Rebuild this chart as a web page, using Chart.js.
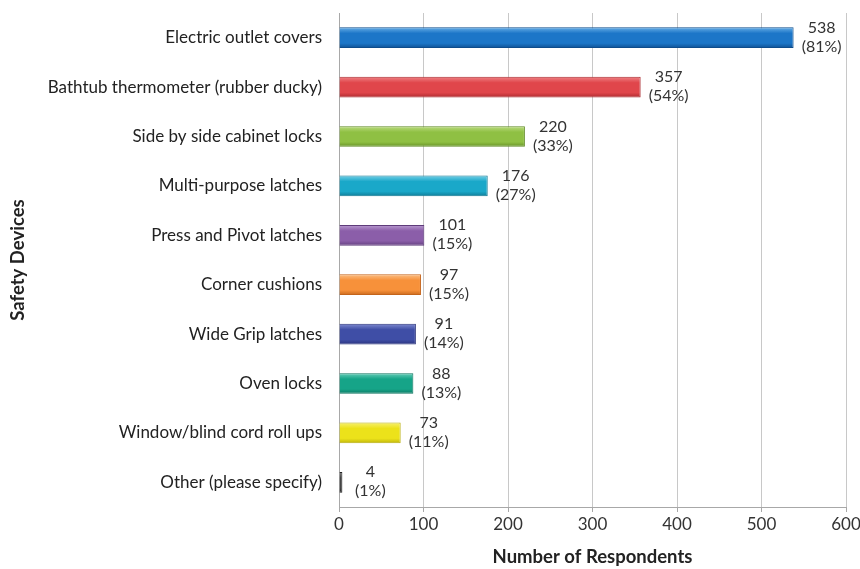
<!DOCTYPE html>
<html>
<head>
<meta charset="utf-8">
<script src="https://cdn.jsdelivr.net/npm/chart.js@4.4.0/dist/chart.umd.min.js"></script>
<style>
  html, body { margin: 0; padding: 0; background: #fff; }
  #wrap { width: 860px; height: 569px; }
</style>
</head>
<body>
<div id="wrap"><canvas id="devicesChart" width="860" height="569"></canvas></div>
<script>
const categories = [
  'Electric outlet covers',
  'Bathtub thermometer (rubber ducky)',
  'Side by side cabinet locks',
  'Multi-purpose latches',
  'Press and Pivot latches',
  'Corner cushions',
  'Wide Grip latches',
  'Oven locks',
  'Window/blind cord roll ups',
  'Other (please specify)'
];
const respondents = [538, 357, 220, 176, 101, 97, 91, 88, 73, 4];
const percents = [81, 54, 33, 27, 15, 15, 14, 13, 11, 1];
const xTicks = [0, 100, 200, 300, 400, 500, 600];

// [light, main, dark] per bar
const barColors = [
  ['#6fb4ea', '#1c76c8', '#0d4c8c'],
  ['#f08a8d', '#e0464b', '#a8282c'],
  ['#c2e08a', '#8fc043', '#5f8a22'],
  ['#7fd4ea', '#1aa8c9', '#0e7791'],
  ['#bfa3d6', '#8b5ea9', '#5e3b7a'],
  ['#fcc58f', '#f7913a', '#c4641a'],
  ['#8893d6', '#3f4ea6', '#27307a'],
  ['#6fd2bd', '#16a488', '#0b745f'],
  ['#f8f27a', '#ece21a', '#b8ae0a'],
  ['#888888', '#444444', '#222222']
];

const font = 'Lato, "Open Sans", sans-serif';

function barFill(ctx) {
  const chart = ctx.chart;
  const c = barColors[ctx.dataIndex];
  const y = chart.scales && chart.scales.y;
  if (!y || !chart.ctx) return c[1];
  const mid = y.getPixelForValue(ctx.dataIndex);
  if (!isFinite(mid)) return c[1];
  const half = 11;
  const g = chart.ctx.createLinearGradient(0, mid - half, 0, mid + half);
  g.addColorStop(0, c[0]);
  g.addColorStop(0.3, c[1]);
  g.addColorStop(0.75, c[1]);
  g.addColorStop(1, c[2]);
  return g;
}

const valueLabels = {
  id: 'valueLabels',
  afterDatasetsDraw(chart) {
    const ctx = chart.ctx;
    const meta = chart.getDatasetMeta(0);
    ctx.save();
    ctx.fillStyle = '#333';
    ctx.font = '16px ' + font;
    ctx.textAlign = 'center';
    ctx.textBaseline = 'middle';
    meta.data.forEach((bar, i) => {
      const x = bar.x + 28;
      ctx.fillText(String(respondents[i]), x, bar.y - 10);
      ctx.fillText('(' + percents[i] + '%)', x, bar.y + 9);
    });
    ctx.restore();
  }
};

new Chart(document.getElementById('devicesChart'), {
  type: 'bar',
  data: {
    labels: categories,
    datasets: [{
      data: respondents,
      backgroundColor: barFill,
      borderColor: barColors.map(c => c[2]),
      borderWidth: 1,
      barPercentage: 0.42,
      categoryPercentage: 1
    }]
  },
  options: {
    indexAxis: 'y',
    responsive: false,
    animation: false,
    layout: { padding: { top: 13, right: 14, left: 0, bottom: 0 } },
    plugins: {
      legend: { display: false },
      tooltip: { enabled: false }
    },
    scales: {
      x: {
        min: 0,
        max: 600,
        afterBuildTicks: scale => { scale.ticks = xTicks.map(v => ({ value: v })); },
        afterFit: scale => {
          scale.height = 62;
          scale.paddingLeft = 0;
          scale.paddingRight = 0;
        },
        grid: { color: '#c8c8c8', tickColor: '#a8a8a8', tickLength: 5 },
        border: { color: '#a8a8a8' },
        ticks: { color: '#333', font: { family: font, size: 17 }, padding: 2 },
        title: {
          display: true,
          text: 'Number of Respondents',
          color: '#222',
          font: { family: font, size: 18.5, weight: 'bold' },
          padding: { top: 4, bottom: 1 }
        }
      },
      y: {
        afterFit: scale => {
          scale.width = 339;
          scale.paddingTop = 0;
          scale.paddingBottom = 0;
        },
        grid: { display: false, drawTicks: false },
        border: { color: '#a8a8a8' },
        ticks: { color: '#222', font: { family: font, size: 17 }, padding: 17 },
        title: {
          display: true,
          text: 'Safety Devices',
          color: '#222',
          font: { family: font, size: 18.5, weight: 'bold' },
          padding: { top: 7, bottom: 0 }
        }
      }
    }
  },
  plugins: [valueLabels]
});
</script>
</body>
</html>
